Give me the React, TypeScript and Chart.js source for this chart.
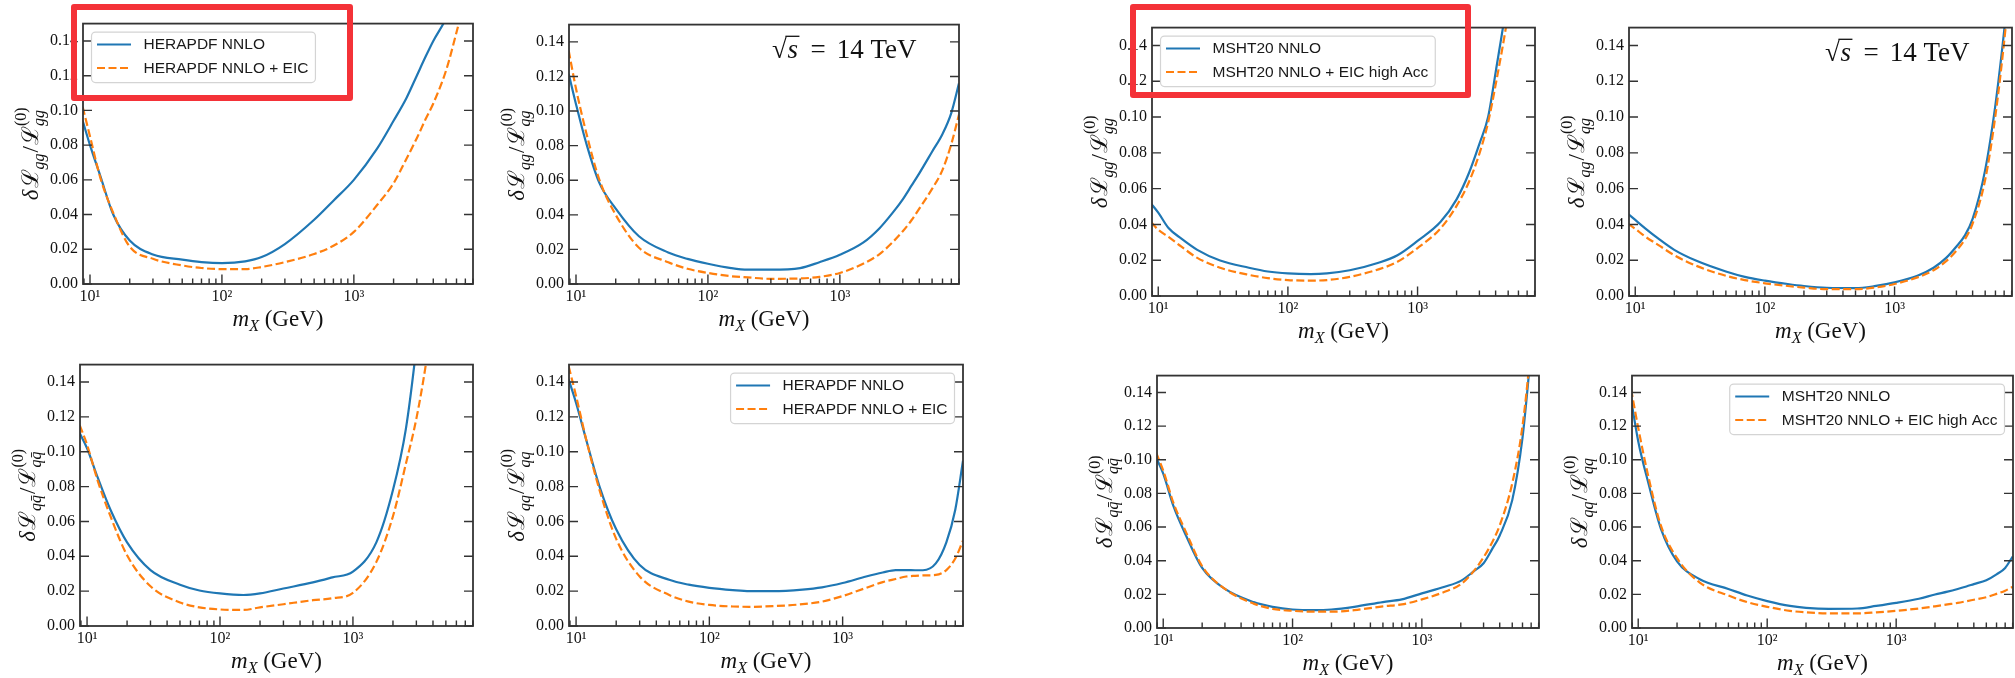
import React, { useEffect, useRef } from "react";
import { Chart, registerables } from "chart.js";

Chart.register(...registerables);

// ---------------- data ----------------
const MASS = [8.8, 10, 12, 15, 20, 30, 50, 70, 100, 150, 200, 300, 500, 700, 1000, 1500, 2000, 2500, 3000, 3500, 4000, 5000, 6000, 7000, 8000];

const HERA_GG_BASE = [0.094, 0.080, 0.062, 0.040, 0.025, 0.017, 0.014, 0.0126, 0.012, 0.013, 0.0155, 0.023, 0.037, 0.048, 0.060, 0.078, 0.094, 0.107, 0.120, 0.131, 0.140, 0.153, 0.168, 0.18, 0.19];
const HERA_GG_EIC = [0.102, 0.085, 0.061, 0.041, 0.0215, 0.0145, 0.0107, 0.0092, 0.0086, 0.0086, 0.0098, 0.0126, 0.0173, 0.022, 0.030, 0.0455, 0.058, 0.072, 0.084, 0.095, 0.104, 0.123, 0.145, 0.165, 0.18];

const HERA_QG_BASE = [0.1216, 0.104, 0.081, 0.0586, 0.0436, 0.0276, 0.0182, 0.0145, 0.0117, 0.0092, 0.0083, 0.0083, 0.0092, 0.0126, 0.0169, 0.0239, 0.0323, 0.041, 0.049, 0.057, 0.064, 0.0765, 0.0868, 0.099, 0.116];
const HERA_QG_EIC = [0.135, 0.113, 0.087, 0.0605, 0.040, 0.021, 0.0126, 0.0088, 0.0064, 0.0045, 0.0038, 0.003, 0.0032, 0.0041, 0.0064, 0.0117, 0.0173, 0.024, 0.0305, 0.037, 0.0436, 0.055, 0.066, 0.081, 0.098];

const MSHT_GG_BASE = [0.0517, 0.0466, 0.038, 0.0322, 0.0258, 0.0198, 0.0158, 0.0137, 0.0126, 0.0122, 0.0126, 0.0144, 0.0186, 0.0228, 0.0308, 0.0413, 0.054, 0.069, 0.085, 0.10, 0.125, 0.17, 0.22, 0.27, 0.32];
const MSHT_GG_EIC = [0.0413, 0.037, 0.033, 0.0277, 0.0213, 0.0158, 0.0118, 0.010, 0.0089, 0.0086, 0.0089, 0.0107, 0.0149, 0.0191, 0.0268, 0.0377, 0.0504, 0.064, 0.0796, 0.097, 0.118, 0.158, 0.2, 0.25, 0.3];

const MSHT_QG_BASE = [0.0459, 0.0425, 0.0377, 0.0322, 0.0258, 0.0195, 0.0137, 0.0107, 0.0086, 0.0067, 0.0056, 0.0046, 0.0044, 0.0055, 0.0076, 0.0113, 0.0158, 0.0213, 0.0277, 0.034, 0.0431, 0.0705, 0.107, 0.148, 0.19];
const MSHT_QG_EIC = [0.0404, 0.0375, 0.0331, 0.0286, 0.0228, 0.0167, 0.0113, 0.0089, 0.0071, 0.0056, 0.0047, 0.0038, 0.0038, 0.0047, 0.0067, 0.0104, 0.0144, 0.0195, 0.0253, 0.0319, 0.0404, 0.065, 0.101, 0.142, 0.185];

const HERA_QQBAR_BASE = [0.1107, 0.102, 0.0854, 0.0667, 0.048, 0.0321, 0.0237, 0.0204, 0.0187, 0.0178, 0.0187, 0.0215, 0.025, 0.0279, 0.0312, 0.048, 0.078, 0.113, 0.16, 0.21, 0.26, 0.35, 0.44, 0.52, 0.6];
const HERA_QQBAR_EIC = [0.1153, 0.104, 0.0836, 0.063, 0.0406, 0.0228, 0.0135, 0.0107, 0.0095, 0.0092, 0.0107, 0.0125, 0.0148, 0.0159, 0.019, 0.0368, 0.063, 0.093, 0.119, 0.148, 0.18, 0.25, 0.32, 0.39, 0.46];

const HERA_QQ_BASE = [0.1415, 0.128, 0.106, 0.080, 0.0555, 0.035, 0.0265, 0.0237, 0.0219, 0.0206, 0.020, 0.020, 0.0209, 0.0222, 0.0247, 0.0284, 0.0307, 0.0321, 0.0321, 0.032, 0.032, 0.0359, 0.048, 0.0667, 0.0948];
const HERA_QQ_EIC = [0.149, 0.132, 0.106, 0.078, 0.050, 0.0284, 0.0178, 0.014, 0.0121, 0.0112, 0.011, 0.0114, 0.0125, 0.014, 0.0172, 0.0219, 0.0252, 0.027, 0.0284, 0.0288, 0.029, 0.0293, 0.0321, 0.0387, 0.049];

const MSHT_QQBAR_BASE = [0.1014, 0.0917, 0.0724, 0.055, 0.0357, 0.0232, 0.0154, 0.0126, 0.011, 0.0106, 0.011, 0.0126, 0.0154, 0.017, 0.0206, 0.0245, 0.028, 0.0335, 0.0385, 0.047, 0.055, 0.076, 0.113, 0.165, 0.21];
const MSHT_QQBAR_EIC = [0.1043, 0.0936, 0.0743, 0.057, 0.0367, 0.0232, 0.0145, 0.0114, 0.0102, 0.0097, 0.0097, 0.0106, 0.0129, 0.014, 0.017, 0.0215, 0.026, 0.0335, 0.042, 0.051, 0.061, 0.086, 0.12, 0.168, 0.22];

const MSHT_QQ_BASE = [0.136, 0.111, 0.086, 0.0589, 0.0396, 0.029, 0.0232, 0.0193, 0.016, 0.0131, 0.012, 0.0114, 0.0116, 0.0131, 0.0149, 0.0174, 0.0199, 0.0216, 0.0232, 0.0247, 0.0261, 0.0284, 0.0319, 0.0357, 0.0425];
const MSHT_QQ_EIC = [0.142, 0.119, 0.0898, 0.0608, 0.0415, 0.027, 0.0193, 0.0154, 0.0126, 0.0102, 0.0093, 0.0087, 0.0087, 0.0093, 0.0102, 0.0116, 0.0129, 0.014, 0.0149, 0.0159, 0.0168, 0.0183, 0.0203, 0.0222, 0.0245];

const Y_TICKS = [0, 0.02, 0.04, 0.06, 0.08, 0.1, 0.12, 0.14];
const Y_RANGE = [0, 0.15];
const X_MAJOR = [10, 100, 1000];
const X_TICK_LABELS = ["10\u00B9", "10\u00B2", "10\u00B3"];
const X_MINOR_MULT = [2, 3, 4, 5, 6, 7, 8, 9];
const X_DECADES = [1, 10, 100, 1000];
const HERA_X_RANGE = [8.85, 8000];
const MSHT_X_RANGE = [8.95, 8050];
const HERA_LABELS = ["HERAPDF NNLO", "HERAPDF NNLO + EIC"];
const MSHT_LABELS = ["MSHT20 NNLO", "MSHT20 NNLO + EIC high Acc"];
const ENERGY_TEXT = "14 TeV";
const X_TITLE_MAIN = "m";
const X_TITLE_SUB = "X";
const X_TITLE_UNIT = " (GeV)";

// ---------------- style ----------------
const BLUE = "#1f77b4";
const ORANGE = "#ff7f0e";
const AXIS = "#333333";
const SERIF = '"Liberation Serif", "DejaVu Serif", serif';
const SANS = '"Liberation Sans", Arial, sans-serif';
const PADL = 90, PADT = 8, PADR = 8, PADB = 52;

type Panel = {
  frame: number[];
  xr: number[];
  base: number[];
  eic: number[];
  labels: string[];
  sub: string;
  legend: "tl" | "tr" | null;
  energy: boolean;
};

const PANELS: Panel[] = [
  { frame: [83, 17, 473, 284], xr: HERA_X_RANGE, base: HERA_GG_BASE, eic: HERA_GG_EIC, labels: HERA_LABELS, sub: "gg", legend: "tl", energy: false },
  { frame: [569, 18, 959, 284], xr: HERA_X_RANGE, base: HERA_QG_BASE, eic: HERA_QG_EIC, labels: HERA_LABELS, sub: "qg", legend: null, energy: true },
  { frame: [1152, 21, 1535, 296], xr: MSHT_X_RANGE, base: MSHT_GG_BASE, eic: MSHT_GG_EIC, labels: MSHT_LABELS, sub: "gg", legend: "tl", energy: false },
  { frame: [1629, 21, 2012, 296], xr: MSHT_X_RANGE, base: MSHT_QG_BASE, eic: MSHT_QG_EIC, labels: MSHT_LABELS, sub: "qg", legend: null, energy: true },
  { frame: [80, 358, 473, 626], xr: HERA_X_RANGE, base: HERA_QQBAR_BASE, eic: HERA_QQBAR_EIC, labels: HERA_LABELS, sub: "qq\u0304", legend: null, energy: false },
  { frame: [569, 358, 963, 626], xr: HERA_X_RANGE, base: HERA_QQ_BASE, eic: HERA_QQ_EIC, labels: HERA_LABELS, sub: "qq", legend: "tr", energy: false },
  { frame: [1157, 369, 1539, 628], xr: MSHT_X_RANGE, base: MSHT_QQBAR_BASE, eic: MSHT_QQBAR_EIC, labels: MSHT_LABELS, sub: "qq\u0304", legend: null, energy: false },
  { frame: [1632, 369, 2013, 628], xr: MSHT_X_RANGE, base: MSHT_QQ_BASE, eic: MSHT_QQ_EIC, labels: MSHT_LABELS, sub: "qq", legend: "tr", energy: false },
];

const RED_BOXES = [
  [71, 4, 282, 97],
  [1130, 4, 341, 94],
];

type Piece = { t: string; f: string; dy?: number; sup?: { t: string; f: string; dy: number }; gap?: number };

function piecesWidth(ctx: CanvasRenderingContext2D, pieces: Piece[]) {
  let w = 0;
  for (const p of pieces) {
    ctx.font = p.f;
    let pw = ctx.measureText(p.t).width;
    if (p.sup) {
      ctx.font = p.sup.f;
      pw = Math.max(pw, ctx.measureText(p.sup.t).width);
    }
    w += pw + (p.gap || 0);
  }
  return w;
}

function drawPieces(ctx: CanvasRenderingContext2D, pieces: Piece[], x0: number, y0: number) {
  let x = x0;
  ctx.textBaseline = "alphabetic";
  ctx.textAlign = "left";
  for (const p of pieces) {
    ctx.font = p.f;
    let pw = ctx.measureText(p.t).width;
    ctx.fillText(p.t, x, y0 + (p.dy || 0));
    if (p.sup) {
      ctx.font = p.sup.f;
      pw = Math.max(pw, ctx.measureText(p.sup.t).width);
      ctx.fillText(p.sup.t, x, y0 + p.sup.dy);
    }
    x += pw + (p.gap || 0);
  }
}

function makeDecor(p: Panel) {
  return {
    id: "decor",
    afterDatasetsDraw(chart: any) {
      const ctx: CanvasRenderingContext2D = chart.ctx;
      const ca = chart.chartArea;
      const xs = chart.scales.x;
      const ys = chart.scales.y;
      ctx.save();

      // inward ticks
      ctx.strokeStyle = AXIS;
      ctx.lineWidth = 1.4;
      ctx.beginPath();
      for (const v of Y_TICKS) {
        const y = ys.getPixelForValue(v);
        ctx.moveTo(ca.left, y);
        ctx.lineTo(ca.left + 9, y);
        ctx.moveTo(ca.right, y);
        ctx.lineTo(ca.right - 9, y);
      }
      for (const v of X_MAJOR) {
        const x = xs.getPixelForValue(v);
        ctx.moveTo(x, ca.bottom);
        ctx.lineTo(x, ca.bottom - 9.5);
      }
      for (const d of X_DECADES) {
        for (const k of X_MINOR_MULT) {
          const v = k * d;
          if (v < xs.min || v > xs.max) continue;
          const x = xs.getPixelForValue(v);
          ctx.moveTo(x, ca.bottom);
          ctx.lineTo(x, ca.bottom - 5.5);
        }
      }
      ctx.stroke();

      // frame
      ctx.lineWidth = 1.8;
      ctx.strokeRect(ca.left, ca.top, ca.right - ca.left, ca.bottom - ca.top);

      // legend
      if (p.legend) {
        ctx.font = `15.5px ${SANS}`;
        const tw = Math.max(...p.labels.map((s) => ctx.measureText(s).width));
        const bw = 52 + tw + 7;
        const bh = 50.5;
        const bx = p.legend === "tl" ? ca.left + 8.5 : ca.right - 8.5 - bw;
        const by = ca.top + 8.5;
        ctx.beginPath();
        (ctx as any).roundRect(bx, by, bw, bh, 4);
        ctx.fillStyle = "rgba(255,255,255,0.85)";
        ctx.fill();
        ctx.strokeStyle = "#d4d4d4";
        ctx.lineWidth = 1.2;
        ctx.stroke();
        p.labels.forEach((lab, i) => {
          const cy = by + 12.5 + i * 23.3;
          ctx.beginPath();
          ctx.strokeStyle = i ? ORANGE : BLUE;
          ctx.lineWidth = 2;
          ctx.setLineDash(i ? [8, 3.5] : []);
          ctx.moveTo(bx + 5.5, cy);
          ctx.lineTo(bx + 39.5, cy);
          ctx.stroke();
          ctx.setLineDash([]);
          ctx.fillStyle = "#1a1a1a";
          ctx.font = `15.5px ${SANS}`;
          ctx.textAlign = "left";
          ctx.textBaseline = "middle";
          ctx.fillText(lab, bx + 52, cy + 0.5);
        });
      }

      // sqrt(s) annotation
      if (p.energy) {
        const fR = `27px ${SERIF}`;
        const fI = `italic 27px ${SERIF}`;
        const gap = 11;
        ctx.font = fR;
        const wSq = ctx.measureText("\u221A").width;
        const asc = ctx.measureText("\u221A").actualBoundingBoxAscent;
        const wEq = ctx.measureText("=").width;
        const wT = ctx.measureText(ENERGY_TEXT).width;
        ctx.font = fI;
        const wS = ctx.measureText("s").width;
        const total = wSq + wS + 2 + gap + wEq + gap + wT;
        const base = ca.top + 33;
        let x = ca.right - 42.5 - total;
        ctx.fillStyle = "#111";
        ctx.textBaseline = "alphabetic";
        ctx.textAlign = "left";
        ctx.font = fR;
        ctx.fillText("\u221A", x, base);
        const barY = base - asc + 0.7;
        ctx.font = fI;
        ctx.fillText("s", x + wSq + 0.5, base);
        ctx.strokeStyle = "#111";
        ctx.lineWidth = 1.3;
        ctx.beginPath();
        ctx.moveTo(x + wSq - 1.5, barY);
        ctx.lineTo(x + wSq + wS + 2, barY);
        ctx.stroke();
        x += wSq + wS + 2 + gap;
        ctx.font = fR;
        ctx.fillText("=", x, base);
        x += wEq + gap;
        ctx.fillText(ENERGY_TEXT, x, base);
      }

      // x title
      ctx.fillStyle = "#111";
      const xPieces: Piece[] = [
        { t: X_TITLE_MAIN, f: `italic 23px ${SERIF}` },
        { t: X_TITLE_SUB, f: `italic 16px ${SERIF}`, dy: 5 },
        { t: X_TITLE_UNIT, f: `23px ${SERIF}` },
      ];
      const xw = piecesWidth(ctx, xPieces);
      drawPieces(ctx, xPieces, (ca.left + ca.right) / 2 - xw / 2, ca.bottom + 42);

      // y title (rotated)
      const yPieces: Piece[] = [
        { t: "\u03B4", f: `italic 23px ${SERIF}`, gap: 1 },
        { t: "\u2112", f: `23px ${SERIF}` },
        { t: p.sub, f: `italic 16px ${SERIF}`, dy: 6, gap: 1 },
        { t: "/", f: `23px ${SERIF}`, gap: 1 },
        { t: "\u2112", f: `23px ${SERIF}` },
        { t: p.sub, f: `italic 16px ${SERIF}`, dy: 6, sup: { t: "(0)", f: `16px ${SERIF}`, dy: -12 } },
      ];
      const yw = piecesWidth(ctx, yPieces);
      ctx.save();
      ctx.translate(ca.left - 45, (ca.top + ca.bottom) / 2);
      ctx.rotate(-Math.PI / 2);
      drawPieces(ctx, yPieces, -yw / 2, 0);
      ctx.restore();

      ctx.restore();
    },
  };
}

function PanelChart({ p }: { p: Panel }) {
  const ref = useRef<HTMLCanvasElement>(null);
  const [l, t, r, b] = p.frame;
  const W = r - l + PADL + PADR;
  const H = b - t + PADT + PADB;

  useEffect(() => {
    const canvas = ref.current;
    if (!canvas) return;
    const mk = (vals: number[]) => MASS.map((m, i) => ({ x: m, y: vals[i] }));
    const chart = new Chart(canvas, {
      type: "line",
      data: {
        datasets: [
          {
            label: p.labels[0],
            data: mk(p.base),
            borderColor: BLUE,
            borderWidth: 2.2,
            pointRadius: 0,
            fill: false,
            cubicInterpolationMode: "monotone",
            clip: 0,
            order: 1,
          },
          {
            label: p.labels[1],
            data: mk(p.eic),
            borderColor: ORANGE,
            borderWidth: 2.2,
            borderDash: [8, 3.5],
            pointRadius: 0,
            fill: false,
            cubicInterpolationMode: "monotone",
            clip: 0,
            order: 0,
          },
        ],
      } as any,
      options: {
        animation: false,
        responsive: false,
        maintainAspectRatio: false,
        devicePixelRatio: 1,
        events: [],
        layout: { padding: { left: 0, top: PADT, right: PADR, bottom: 0 } },
        plugins: { legend: { display: false }, tooltip: { enabled: false } },
        scales: {
          x: {
            type: "logarithmic",
            min: p.xr[0],
            max: p.xr[1],
            grid: { display: false, drawTicks: false },
            border: { display: false },
            ticks: {
              autoSkip: false,
              maxRotation: 0,
              padding: 3,
              color: "#111",
              font: { family: SERIF, size: 16 },
              callback: (v: any) => {
                const i = X_MAJOR.indexOf(Number(v));
                return i >= 0 ? X_TICK_LABELS[i] : "";
              },
            },
            afterBuildTicks: (s: any) => {
              s.ticks = X_MAJOR.map((v) => ({ value: v }));
            },
            afterFit: (s: any) => {
              s.height = PADB;
            },
          },
          y: {
            type: "linear",
            min: Y_RANGE[0],
            max: Y_RANGE[1],
            grid: { display: false, drawTicks: false },
            border: { display: false },
            ticks: {
              padding: 5,
              color: "#111",
              font: { family: SERIF, size: 16 },
              callback: (v: any) => Number(v).toFixed(2),
            },
            afterBuildTicks: (s: any) => {
              s.ticks = Y_TICKS.map((v) => ({ value: v }));
            },
            afterFit: (s: any) => {
              s.width = PADL;
            },
          },
        },
      } as any,
      plugins: [makeDecor(p)],
    });
    return () => chart.destroy();
  }, []);

  return (
    <canvas
      ref={ref}
      width={W}
      height={H}
      style={{ position: "absolute", left: l - PADL, top: t - PADT, width: W, height: H }}
    />
  );
}

export default function App() {
  return (
    <div style={{ position: "absolute", left: 0, top: 0, width: 2015, height: 678, overflow: "hidden", background: "#fff" }}>
      {PANELS.map((p, i) => (
        <PanelChart key={i} p={p} />
      ))}
      {RED_BOXES.map((bx, i) => (
        <div
          key={"red" + i}
          style={{
            position: "absolute",
            left: bx[0],
            top: bx[1],
            width: bx[2],
            height: bx[3],
            border: "6px solid #f43238",
            borderRadius: 3,
            boxSizing: "border-box",
            pointerEvents: "none",
          }}
        />
      ))}
    </div>
  );
}
